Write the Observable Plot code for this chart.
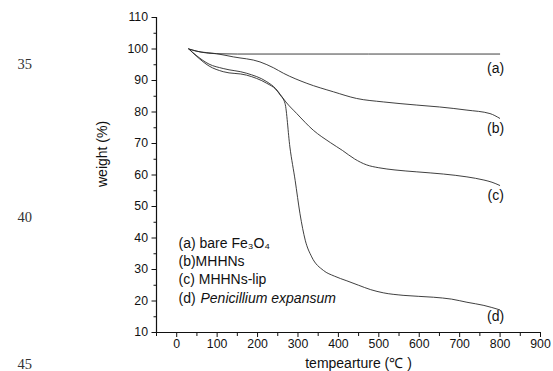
<!DOCTYPE html>
<html><head><meta charset="utf-8">
<script src="https://cdn.jsdelivr.net/npm/d3@7"></script>
<script src="https://cdn.jsdelivr.net/npm/@observablehq/plot@0.6"></script>
<style>
body{margin:0;background:#fff;}
#chart{position:relative;width:553px;height:371px;overflow:hidden;background:#fff;}
</style></head><body><div id="chart"></div>
<script>
// ---- data ----
const tempA   = [30, 60, 99, 150, 799];
const weightA = [100, 99.0, 98.5, 98.4, 98.4];

const tempB   = [30, 50, 99, 140, 206, 240, 264, 322, 388, 445, 511, 594, 650, 718, 775, 799];
const weightB = [100, 99.3, 98.5, 97.5, 95.9, 94.0, 92.3, 89.1, 86.4, 84.3, 83.2, 82.2, 81.6, 80.6, 79.5, 78.0];

const tempC   = [30, 50, 80, 115, 173, 223, 245, 256, 270, 297, 338, 380, 410, 440, 470, 500, 540, 594, 660, 718, 760, 780, 799];
const weightC = [100, 97.8, 95.2, 93.8, 92.3, 89.6, 87.4, 85.6, 83.2, 79.5, 74.2, 70.3, 67.8, 65.1, 63.2, 62.3, 61.6, 61.0, 60.3, 59.4, 58.4, 57.7, 56.7];

const tempD   = [30, 50, 80, 115, 173, 223, 245, 256, 268, 280, 293, 305, 318, 334, 363, 390, 421, 450, 480, 511, 560, 635, 680, 718, 760, 799];
const weightD = [100, 97.6, 94.6, 92.8, 91.7, 89.1, 87.2, 85.4, 82.7, 68.9, 58.3, 47.7, 39.3, 34.0, 29.7, 27.9, 26.4, 25.0, 23.6, 22.6, 21.8, 21.2, 20.6, 19.6, 18.6, 17.2];

const seriesNames = ["(a)", "(b)", "(c)", "(d)"];
const legendLines = ["(a) bare Fe\u2083O\u2084", "(b)MHHNs", "(c) MHHNs-lip", "(d)"];
const legendItalic = "Penicillium expansum";

const xDomain = [-50, 900];
const yDomain = [10, 110];
const xMajorTicks = [0, 100, 200, 300, 400, 500, 600, 700, 800, 900];
const xMinorTicks = [-50, 50, 150, 250, 350, 450, 550, 650, 750, 850];
const yMajorTicks = [10, 20, 30, 40, 50, 60, 70, 80, 90, 100, 110];
const yMinorTicks = [15, 25, 35, 45, 55, 65, 75, 85, 95, 105];

const xLabel = "tempearture (\u2103 )";
const yLabel = "weight (%)";
const lineNumbers = ["35", "40", "45"];

// ---- build table ----
const toRows = (t, w, s) => t.map((x, i) => ({temp: x, weight: w[i], series: s}));
const allSeries = [
  toRows(tempA, weightA, seriesNames[0]),
  toRows(tempB, weightB, seriesNames[1]),
  toRows(tempC, weightC, seriesNames[2]),
  toRows(tempD, weightD, seriesNames[3])
];
const rows = allSeries.flat();
const lastPoints = allSeries.map(s => s[s.length - 1]);
const labelDy = [14, 10, 10, 7];
const lineNumberDy = [-111, 42, 189];

const font = "'Liberation Sans', Arial, Helvetica, sans-serif";
const ink = "#111";
const tf = 12.3;   // tick font
const lf = 14;     // label font

const marks = [
  Plot.axisY(yMajorTicks, {tickSize: 4.5, tickPadding: 4, label: null, fontSize: tf, stroke: ink, fill: ink}),
  Plot.axisY(yMinorTicks, {tickSize: 2.5, tickFormat: () => "", label: null, stroke: ink}),
  Plot.axisX(xMajorTicks, {tickSize: 5, tickPadding: 2, label: null, fontSize: tf, stroke: ink, fill: ink}),
  Plot.axisX(xMinorTicks, {tickSize: 4, tickFormat: () => "", label: null, stroke: ink}),
  Plot.ruleX([xDomain[0]], {stroke: ink, strokeWidth: 1.2}),
  Plot.ruleY([yDomain[0]], {stroke: ink, strokeWidth: 1.2}),
  Plot.line(rows, {x: "temp", y: "weight", z: "series", stroke: "#2a2a2a", strokeWidth: 0.9, curve: "monotone-x"}),
  ...lastPoints.map((p, i) => Plot.text([p], {x: "temp", y: "weight", text: "series", dx: -4, dy: labelDy[i], fontSize: lf, fill: ink})),
  ...legendLines.map((t, i) => Plot.text([t], {frameAnchor: "top-left", dx: 22, dy: 226 + i * 18.2, textAnchor: "start", lineAnchor: "middle", fontSize: lf, fill: ink})),
  Plot.text([legendItalic], {frameAnchor: "top-left", dx: 44, dy: 226 + 3 * 18.2, textAnchor: "start", lineAnchor: "middle", fontSize: lf, fontStyle: "italic", fill: ink}),
  Plot.text([yLabel], {frameAnchor: "left", dx: -54, dy: 12, rotate: -90, lineAnchor: "middle", fontSize: lf, fill: ink}),
  Plot.text([xLabel], {frameAnchor: "bottom", dx: 10, dy: 31, lineAnchor: "middle", fontSize: lf, fill: ink}),
  ...lineNumbers.map((t, i) => Plot.text([t], {frameAnchor: "left", dx: -139, dy: lineNumberDy[i], lineAnchor: "middle", fontSize: 14.5, fontFamily: "'Liberation Serif', 'Times New Roman', serif", fill: "#333"}))
];

const plot = Plot.plot({
  width: 553, height: 371,
  marginLeft: 156, marginRight: 13, marginTop: 17, marginBottom: 39,
  style: {fontFamily: font, fontSize: tf + "px", color: ink, background: "transparent", overflow: "visible"},
  x: {domain: xDomain},
  y: {domain: yDomain},
  marks
});
document.getElementById("chart").append(plot);
</script>
</body></html>
